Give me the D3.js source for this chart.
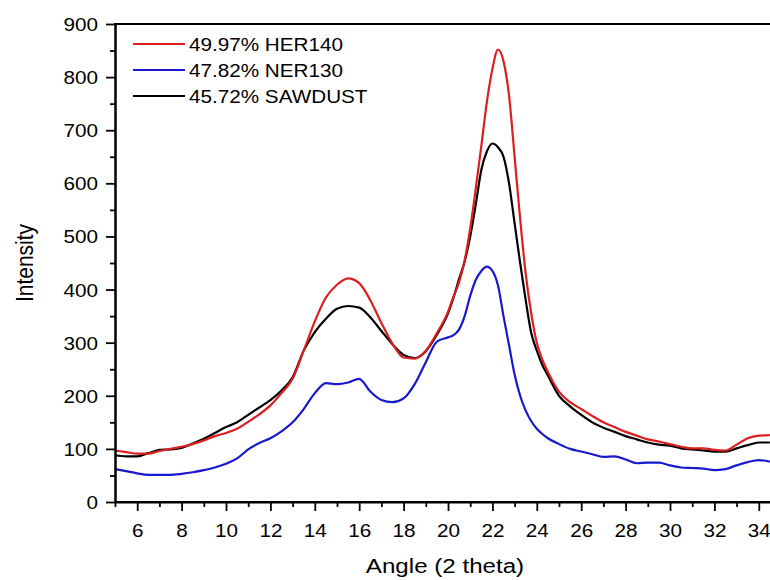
<!DOCTYPE html>
<html><head><meta charset="utf-8">
<script src="https://cdn.jsdelivr.net/npm/d3@7"></script>
<style>
html,body{margin:0;padding:0;background:#fff;}
svg text{font-family:"Liberation Sans",Arial,sans-serif;fill:#000;}
</style></head>
<body><svg id="c" width="770" height="580"></svg>
<script>
const angle = [5,5.5,6,6.5,7,7.5,8,8.5,9,9.5,10,10.5,11,11.5,12,12.5,13,13.5,14,14.5,15,15.5,16,16.5,17,17.5,18,18.5,19,19.5,
  20,20.25,20.5,20.75,21,21.25,21.5,21.75,22,22.25,22.5,22.75,23,23.25,23.5,23.75,24,24.25,24.5,
  25,25.5,26,26.5,27,27.5,28,28.5,29,29.5,30,30.5,31,31.5,32,32.5,33,33.5,34,34.5];
const her140 = [97,94,91,91,96,100,104,109,116,124,130,138,151,165,182,205,232,285,340,385,409,421,412,380,337,298,272,270,285,318,
  358,387,414,455,515,590,670,753,815,852,830,765,650,533,430,355,300,268,245,
  208,188,175,162,150,141,132,125,118,114,109,104,101,101,98,97,108,120,125,126];
const ner130 = [62,58,54,51,51,51,53,56,60,65,72,82,99,111,120,133,150,175,205,224,222,225,232,208,192,188,195,222,263,302,
  310,314,325,350,388,418,435,443,435,408,350,295,240,200,172,152,138,128,120,
  109,100,95,90,85,86,80,73,74,74,69,65,64,63,60,62,69,75,79,76];
const sawdust = [88,86,86,92,98,99,102,110,119,130,141,150,164,178,192,210,235,285,320,345,364,369,366,348,322,297,277,271,284,315,
  355,385,420,453,500,560,625,660,675,668,650,600,525,450,380,318,285,258,238,
  200,180,164,150,140,132,124,118,112,108,106,101,99,97,95,95,101,107,112,112];
const seriesNames = ["49.97% HER140","47.82% NER130","45.72% SAWDUST"];
const seriesColors = ["#dc1e1e","#1818cc","#000000"];
const xTicks = [6,8,10,12,14,16,18,20,22,24,26,28,30,32,34];
const xMinor = [5,7,9,11,13,15,17,19,21,23,25,27,29,31,33,35];
const yTicks = [0,100,200,300,400,500,600,700,800,900];
const yMinor = [50,150,250,350,450,550,650,750,850];
const xTitle = "Angle (2 theta)";
const yTitle = "Intensity";

const svg = d3.select("#c");
const L = 115, T = 24, B = 502, R = 770;
const x = d3.scaleLinear().domain([5,35]).range([L, L + 30*22.2]);
const y = d3.scaleLinear().domain([0,900]).range([B, T]);
const SX = 1.15;

svg.append("defs").append("clipPath").attr("id","clip")
  .append("rect").attr("x",L).attr("y",T-2).attr("width",R-L).attr("height",B-T+2);

// lines
const series = [
  {name:seriesNames[2], vals:sawdust, color:seriesColors[2]},
  {name:seriesNames[1], vals:ner130, color:seriesColors[1]},
  {name:seriesNames[0], vals:her140, color:seriesColors[0]}
];
const line = d3.line().x(d=>x(d[0])).y(d=>y(d[1])).curve(d3.curveMonotoneX);
const g = svg.append("g").attr("clip-path","url(#clip)");
series.forEach(s=>{
  g.append("path").datum(angle.map((a,i)=>[a,s.vals[i]]))
   .attr("d",line).attr("fill","none").attr("stroke",s.color)
   .attr("stroke-width",2.2).attr("stroke-linejoin","round");
});

// axes
function styleAxis(sel){
  sel.select(".domain").attr("stroke","#000").attr("stroke-width",2);
  sel.selectAll(".tick line").attr("stroke","#000").attr("stroke-width",1.8);
  sel.selectAll(".tick text").remove();
}
const xMinorAx = svg.append("g").attr("transform",`translate(0,${B})`)
  .call(d3.axisBottom(x).tickValues(xMinor).tickSize(5).tickSizeOuter(0).tickFormat(""));
styleAxis(xMinorAx);
const xAx = svg.append("g").attr("transform",`translate(0,${B})`)
  .call(d3.axisBottom(x).tickValues(xTicks).tickSize(9).tickSizeOuter(0));
xAx.selectAll(".tick").each(function(d){
  d3.select(this).append("text").attr("transform",`translate(0,35) scale(${SX},1)`)
    .attr("text-anchor","middle").style("font-size","18px").text(d);
});
xAx.select(".domain").remove();
xAx.selectAll(".tick line").attr("stroke","#000").attr("stroke-width",1.8);
xAx.selectAll(".tick text:not(:last-child)").remove();

const yMinorAx = svg.append("g").attr("transform",`translate(${L},0)`)
  .call(d3.axisLeft(y).tickValues(yMinor).tickSize(5).tickSizeOuter(0).tickFormat(""));
styleAxis(yMinorAx);
const yAx = svg.append("g").attr("transform",`translate(${L},0)`)
  .call(d3.axisLeft(y).tickValues(yTicks).tickSize(9).tickSizeOuter(0).tickFormat(""));
yAx.select(".domain").attr("stroke","#000").attr("stroke-width",2);
yAx.selectAll(".tick line").attr("stroke","#000").attr("stroke-width",1.8);
yAx.selectAll(".tick text").remove();
yAx.selectAll(".tick").each(function(d){
  d3.select(this).append("text").attr("transform",`translate(-17,6.5) scale(${SX},1)`)
    .attr("text-anchor","end").style("font-size","18px").text(d);
});

// bottom axis line across full width and top frame
svg.append("line").attr("x1",L).attr("x2",R).attr("y1",B).attr("y2",B).attr("stroke","#000").attr("stroke-width",2);
svg.append("line").attr("x1",L-1).attr("x2",R).attr("y1",T).attr("y2",T).attr("stroke","#000").attr("stroke-width",2);

// titles
svg.append("text").attr("transform",`translate(445,573) scale(${SX},1)`)
  .attr("text-anchor","middle").style("font-size","21px").text(xTitle);
svg.append("text").attr("transform",`translate(33,263) rotate(-90) scale(1,${SX})`)
  .attr("text-anchor","middle").style("font-size","21px").text(yTitle);

// legend
const legY = [44,70,96];
seriesNames.forEach((n,i)=>{
  svg.append("line").attr("x1",133).attr("x2",185).attr("y1",legY[i]).attr("y2",legY[i])
    .attr("stroke",seriesColors[i]).attr("stroke-width",2.2);
  svg.append("text").attr("transform",`translate(189,${legY[i]+6.5}) scale(${SX},1)`)
    .style("font-size","18px").text(n);
});
</script></body></html>
